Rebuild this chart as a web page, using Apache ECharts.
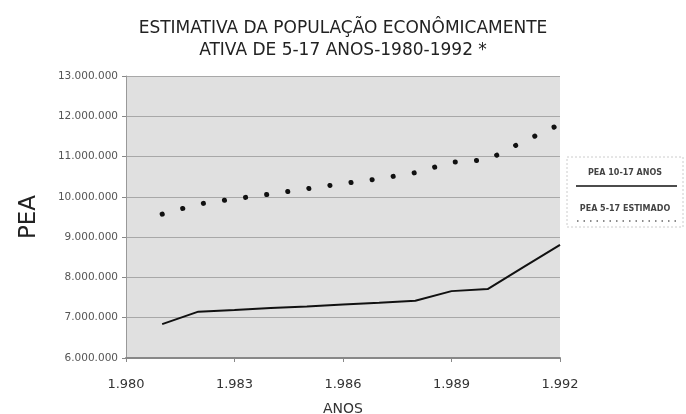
<!DOCTYPE html>
<html>
<head>
<meta charset="utf-8">
<script src="https://cdn.jsdelivr.net/npm/echarts@6/dist/echarts.min.js"></script>
<style>
  html, body { margin: 0; padding: 0; background: #fff; }
  #chart { width: 686px; height: 414px; }
</style>
</head>
<body>
<div id="chart"></div>
<script>
// 数据
const anos = [1981, 1982, 1983, 1984, 1985, 1986, 1987, 1988, 1989, 1990, 1991, 1992];
const pea10a17 = [6840000, 7150000, 7190000, 7240000, 7280000, 7330000, 7370000, 7420000, 7660000, 7710000, 8260000, 8810000];
const pea5a17 = [9570000, 9820000, 9950000, 10070000, 10200000, 10330000, 10450000, 10600000, 10860000, 10920000, 11380000, 11800000];
const nomes = ['PEA 10-17 ANOS', 'PEA 5-17 ESTIMADO'];

const fonte = 'DejaVu Sans';

function fmtMil(v) { // 13000000 -> 13.000.000
  return String(Math.round(v)).replace(/\B(?=(\d{3})+(?!\d))/g, '.');
}

const chart = echarts.init(document.getElementById('chart'));

chart.setOption({
  animation: false,
  backgroundColor: '#fff',
  title: {
    text: 'ESTIMATIVA DA POPULAÇÃO ECONÔMICAMENTE\nATIVA DE 5-17 ANOS-1980-1992 *',
    left: 'center',
    top: 13,
    textStyle: {
      fontFamily: fonte,
      fontSize: 17,
      fontWeight: 'normal',
      color: '#222',
      lineHeight: 22
    }
  },
  grid: { // 绘图区
    left: 126,
    right: 126,
    top: 76,
    bottom: 56,
    outerBoundsMode: 'none',
    show: true,
    backgroundColor: '#e0e0e0',
    borderWidth: 0
  },
  xAxis: {
    type: 'value',
    min: 1980,
    max: 1992,
    interval: 3,
    name: 'ANOS',
    nameLocation: 'middle',
    nameGap: 44,
    nameTextStyle: { fontFamily: fonte, fontSize: 14, color: '#333' },
    axisLine: { lineStyle: { color: '#888', width: 2 } },
    axisTick: { show: true, length: 4, lineStyle: { color: '#888' } },
    axisLabel: {
      fontFamily: fonte,
      fontSize: 13,
      color: '#333',
      margin: 20,
      formatter: v => fmtMil(v)
    },
    splitLine: { show: false }
  },
  yAxis: {
    type: 'value',
    min: 6000000,
    max: 13000000,
    interval: 1000000,
    name: 'PEA',
    nameLocation: 'middle',
    nameGap: 85,
    nameRotate: 90,
    nameTextStyle: { fontFamily: fonte, fontSize: 23, color: '#222' },
    axisLine: { show: true, lineStyle: { color: '#999', width: 1 } },
    axisTick: { show: true, length: 4, lineStyle: { color: '#888' } },
    axisLabel: {
      fontFamily: fonte,
      fontSize: 10.5,
      color: '#555',
      margin: 8,
      formatter: v => fmtMil(v)
    },
    splitLine: { lineStyle: { color: '#a8a8a8', width: 1 } }
  },
  graphic: [ // 图例
    {
      type: 'rect',
      shape: { x: 567, y: 157, width: 116, height: 70 },
      style: { fill: '#fff', stroke: '#ccc', lineWidth: 1, lineDash: [2, 2] }
    },
    {
      type: 'text',
      style: { x: 625, y: 173, text: nomes[0], align: 'center', verticalAlign: 'middle',
        font: 'bold 8px DejaVu Sans', fill: '#444' }
    },
    {
      type: 'line',
      shape: { x1: 576, y1: 186, x2: 677, y2: 186 },
      style: { stroke: '#111', lineWidth: 1.5 }
    },
    {
      type: 'text',
      style: { x: 625, y: 209, text: nomes[1], align: 'center', verticalAlign: 'middle',
        font: 'bold 8px DejaVu Sans', fill: '#444' }
    },
    {
      type: 'line',
      shape: { x1: 577, y1: 221, x2: 677, y2: 221 },
      style: { stroke: '#666', lineWidth: 1.5, lineDash: [1.5, 5] }
    }
  ],
  series: [
    {
      name: nomes[0],
      type: 'line',
      data: anos.map((a, i) => [a, pea10a17[i]]),
      showSymbol: false,
      lineStyle: { color: '#111', width: 2 }
    },
    {
      name: nomes[1],
      type: 'line',
      data: anos.map((a, i) => [a, pea5a17[i]]),
      showSymbol: false,
      lineStyle: { color: '#111', width: 5, type: [0.1, 21.2], cap: 'round' }
    }
  ]
});
</script>
</body>
</html>
